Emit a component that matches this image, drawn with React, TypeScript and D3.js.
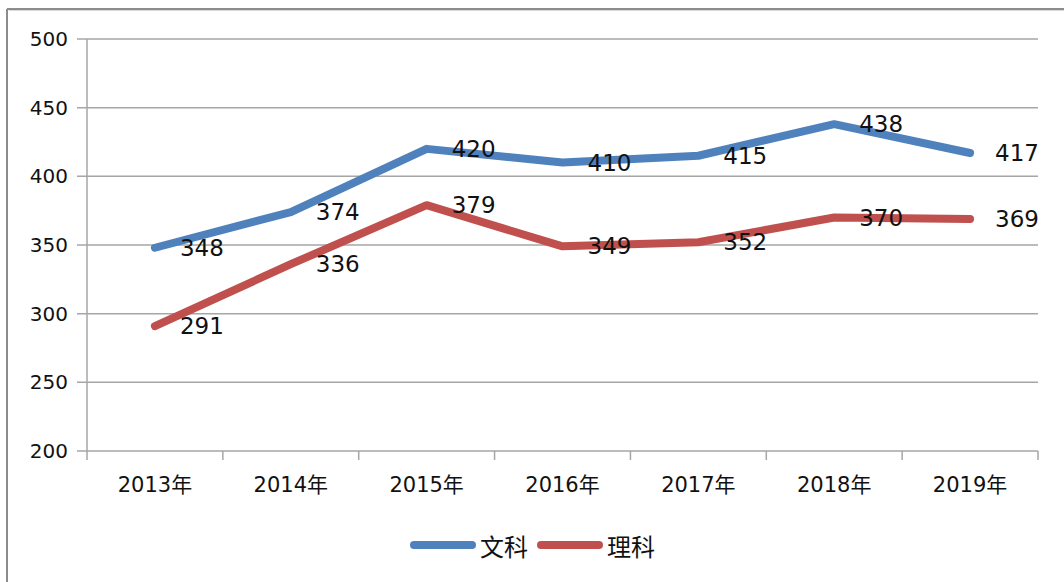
import React from "react";
import * as d3 from "d3";

const categories = ["2013年", "2014年", "2015年", "2016年", "2017年", "2018年", "2019年"];
const wenke = [348, 374, 420, 410, 415, 438, 417];
const like = [291, 336, 379, 349, 352, 370, 369];
const yTicks = [200, 250, 300, 350, 400, 450, 500];
const seriesNames = ["文科", "理科"];
const seriesColors = ["#4F81BD", "#C0504D"];

const W = 1064;
const H = 582;
const left = 87;
const right = 1038;
const top = 39;
const bottom = 451;
const FONT = "'DejaVu Sans', 'Noto Sans CJK SC', sans-serif";

export default function App() {
  const x = d3.scaleBand<string>().domain(categories).range([left, right]).padding(0);
  const y = d3.scaleLinear().domain([200, 500]).range([bottom, top]);
  const cx = (c: string) => (x(c) as number) + x.bandwidth() / 2;
  const line = d3
    .line<number>()
    .x((_, i) => cx(categories[i]))
    .y((d) => y(d));
  const series = [wenke, like];
  const boundaries = categories.map((c) => x(c) as number).concat([right]);

  return (
    <div style={{ position: "absolute", left: 0, top: 0, width: W, height: H, background: "#fff" }}>
      <svg width={W} height={H} style={{ display: "block" }}>
        <rect x={0} y={0} width={W} height={H} fill="#fff" />
        {/* outer frame */}
        <line x1={7} y1={9} x2={W} y2={9} stroke="#8c8c8c" strokeWidth={2} />
        <line x1={7} y1={9} x2={7} y2={H} stroke="#8c8c8c" strokeWidth={2} />
        <line x1={9} y1={10.5} x2={W} y2={10.5} stroke="#d9d9d9" strokeWidth={1} />
        {/* gridlines + y ticks */}
        {yTicks.map((t) => (
          <g key={t}>
            <line x1={77} x2={right} y1={y(t)} y2={y(t)} stroke="#a6a6a6" strokeWidth={1.5} />
            <text x={68} y={y(t)} textAnchor="end" dominantBaseline="central" fontFamily={FONT} fontSize={20} fill="#111">
              {t}
            </text>
          </g>
        ))}
        {/* y axis */}
        <line x1={left} x2={left} y1={top} y2={bottom} stroke="#a6a6a6" strokeWidth={1.5} />
        {/* x ticks */}
        {boundaries.map((b, i) => (
          <line key={i} x1={b} x2={b} y1={bottom} y2={bottom + 9} stroke="#a6a6a6" strokeWidth={1.5} />
        ))}
        {categories.map((c) => (
          <text key={c} x={cx(c)} y={485} textAnchor="middle" dominantBaseline="central" fontFamily={FONT} fontSize={21} fill="#111">
            {c}
          </text>
        ))}
        {/* series lines */}
        {series.map((s, si) => (
          <path
            key={si}
            d={line(s) || ""}
            fill="none"
            stroke={seriesColors[si]}
            strokeWidth={8}
            strokeLinecap="round"
            strokeLinejoin="round"
          />
        ))}
        {/* data labels */}
        {series.map((s, si) =>
          s.map((v, i) => (
            <text
              key={si + "-" + i}
              x={cx(categories[i]) + 25}
              y={y(v)}
              dominantBaseline="central"
              fontFamily={FONT}
              fontSize={23}
              fill="#111"
            >
              {v}
            </text>
          ))
        )}
        {/* legend */}
        {seriesNames.map((n, i) => {
          const lx = [414, 541][i];
          return (
            <g key={n}>
              <line x1={lx} x2={lx + 58} y1={545} y2={545} stroke={seriesColors[i]} strokeWidth={8} strokeLinecap="round" />
              <text x={lx + 66} y={545} dominantBaseline="central" fontFamily="'Noto Sans CJK SC', sans-serif" fontSize={24} fill="#111">
                {n}
              </text>
            </g>
          );
        })}
      </svg>
    </div>
  );
}
